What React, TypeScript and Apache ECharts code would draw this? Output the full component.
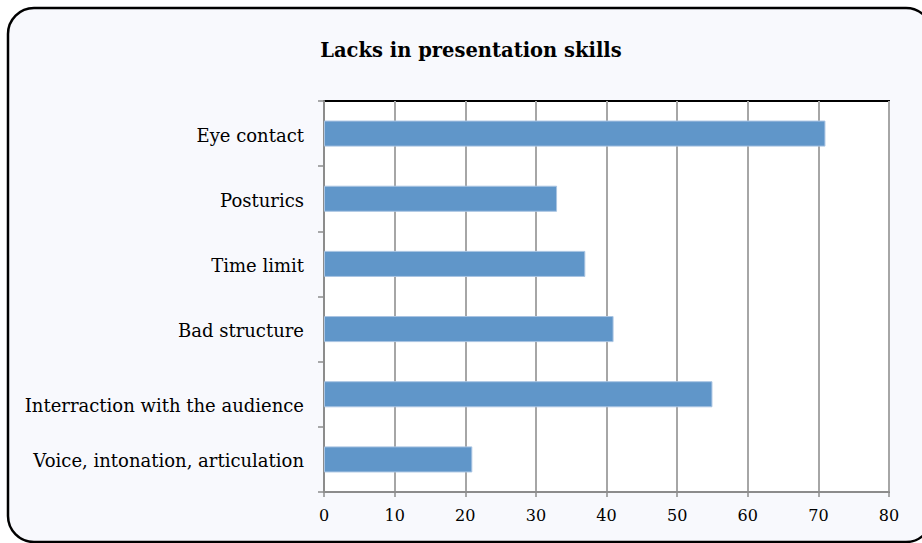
import React, { useEffect, useRef } from "react";
import * as echarts from "echarts";

const categories = [
  "Eye contact",
  "Posturics",
  "Time limit",
  "Bad structure",
  "Interraction with the audience",
  "Voice, intonation, articulation",
];
const values = [71, 33, 37, 41, 55, 21];
const titleText = "Lacks in presentation skills";

export default function App() {
  const ref = useRef<HTMLDivElement>(null);
  useEffect(() => {
    if (!ref.current) return;
    const chart = echarts.init(ref.current, undefined, { renderer: "svg" });
    const font = "DejaVu Serif";
    chart.setOption({
      animation: false,
      backgroundColor: "#ffffff",
      graphic: [
        {
          type: "rect",
          z: -10,
          shape: { x: 8, y: 8, width: 924, height: 534, r: 26 },
          style: { fill: "#f8f9fd", stroke: "#000000", lineWidth: 2.5 },
        },
      ],
      title: {
        text: titleText,
        left: 466,
        textAlign: "center",
        top: 35,
        textStyle: { fontFamily: font, fontWeight: "bold", fontSize: 19.5, color: "#000" },
      },
      grid: {
        left: 324,
        right: 33,
        top: 101,
        bottom: 51,
        show: true,
        backgroundColor: "#ffffff",
        borderColor: "#000000",
        borderWidth: 2,
      },
      xAxis: {
        type: "value",
        min: 0,
        max: 80,
        interval: 10,
        axisLine: { show: true, lineStyle: { color: "#8c8c8c", width: 2 } },
        axisTick: { show: true, inside: false, length: 5, lineStyle: { color: "#8c8c8c", width: 1.5 } },
        splitLine: { show: true, lineStyle: { color: "#a6a6a6", width: 2 } },
        axisLabel: { fontFamily: font, fontSize: 16, color: "#000", margin: 15 },
      },
      yAxis: {
        type: "category",
        data: categories,
        inverse: true,
        axisLine: { show: true, lineStyle: { color: "#8c8c8c", width: 2 } },
        axisTick: { show: true, inside: false, length: 6, lineStyle: { color: "#8c8c8c", width: 1.5 } },
        splitLine: { show: false },
        axisLabel: {
          fontFamily: font,
          fontSize: 18,
          color: "#000",
          margin: 20,
          formatter: (v: string, i: number) => (i === 4 ? `{low|${v}}` : `{n|${v}}`),
          rich: {
            n: { fontFamily: font, fontSize: 18, color: "#000", padding: [3, 0, 0, 0] },
            low: { fontFamily: font, fontSize: 18, color: "#000", padding: [22, 0, 0, 0] },
          },
        },
      },
      series: [
        {
          type: "bar",
          data: values,
          barWidth: "40%",
          itemStyle: { color: "#6096c9", borderColor: "#a9c4e2", borderWidth: 1 },
        },
      ],
    });
    return () => chart.dispose();
  }, []);
  return (
    <div
      ref={ref}
      style={{ position: "fixed", left: 0, top: 0, width: 922, height: 543 }}
    />
  );
}
